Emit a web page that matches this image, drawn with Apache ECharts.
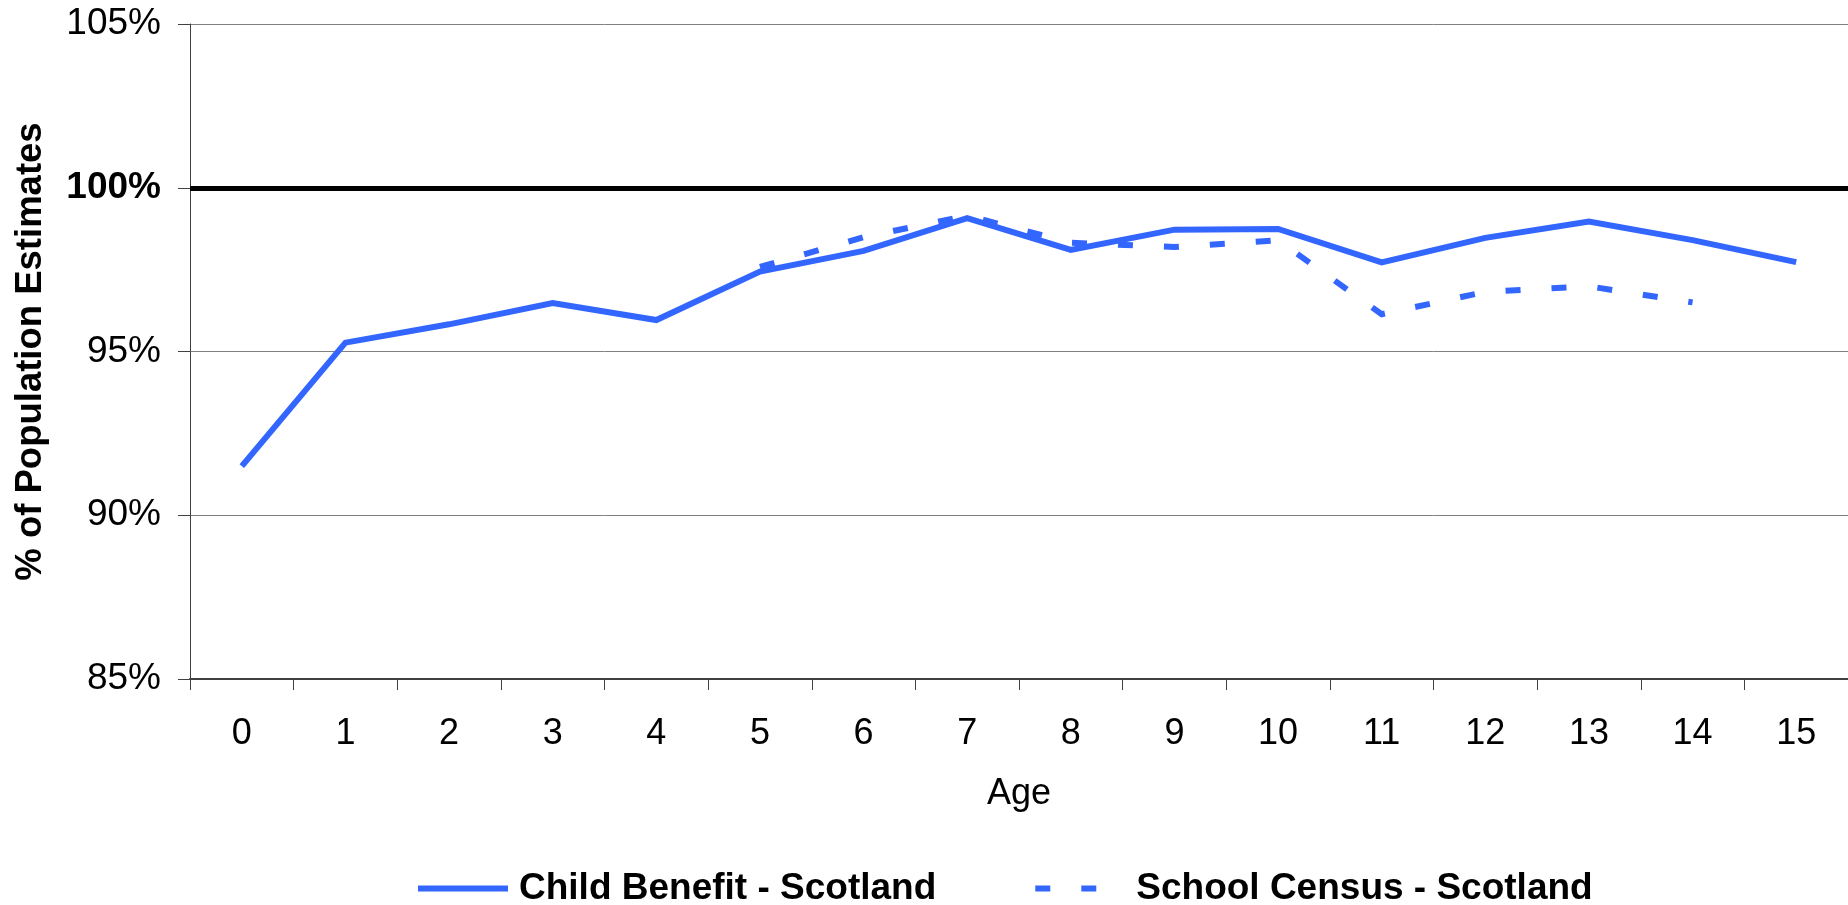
<!DOCTYPE html>
<html>
<head>
<meta charset="utf-8">
<title>Child Benefit and School Census as % of Population Estimates</title>
<script src="https://cdn.jsdelivr.net/npm/echarts@6/dist/echarts.min.js"></script>
<style>
  html, body { margin: 0; padding: 0; background: #ffffff; }
  #chart { width: 1848px; height: 905px; }
</style>
</head>
<body>
<div id="chart"></div>
<script>
// Ages 0 to 15
const ages = ['0', '1', '2', '3', '4', '5', '6', '7', '8', '9', '10', '11', '12', '13', '14', '15'];

// Child Benefit counts as % of population estimates, by age
const childBenefit = [91.5, 95.27, 95.83, 96.48, 95.96, 97.44, 98.07, 99.07, 98.1, 98.72, 98.74, 97.72, 98.47, 98.97, 98.4, 97.73];

// School Census counts as % of population estimates (school ages only)
const schoolCensus = [null, null, null, null, null, 97.58, 98.49, 99.15, 98.32, 98.19, 98.4, 96.14, 96.82, 96.99, 96.5, null];

// Value axis range and reference level
const yMin = 85;
const yMax = 105;
const yStep = 5;
const referenceLevel = 100;

const FONT = "'Liberation Sans', Arial, Helvetica, sans-serif";
const BLUE = '#3366FF';

const chart = echarts.init(document.getElementById('chart'), null, { renderer: 'canvas' });

chart.setOption({
  animation: false,
  backgroundColor: '#ffffff',
  textStyle: { fontFamily: FONT, color: '#000000' },
  grid: { left: 190, top: 24, width: 1685, height: 655 },
  legend: {
    left: 415,
    top: 870,
    padding: 0,
    itemWidth: 90,
    itemHeight: 20,
    itemGap: 96,
    textStyle: { fontFamily: FONT, fontSize: 37, fontWeight: 'bold', color: '#000000', padding: [0, 0, 0, 6] },
    itemStyle: { opacity: 0, borderWidth: 0 },
    lineStyle: { width: 6 },
    data: ['Child Benefit - Scotland', 'School Census - Scotland']
  },
  xAxis: {
    type: 'category',
    data: ages,
    boundaryGap: true,
    name: 'Age',
    nameLocation: 'middle',
    nameGap: 97,
    nameTextStyle: { fontFamily: FONT, fontSize: 36, color: '#000000' },
    axisLine: { show: true, lineStyle: { color: '#404040', width: 2 } },
    axisTick: { show: true, length: 11, lineStyle: { color: '#404040', width: 1 } },
    axisLabel: { fontFamily: FONT, fontSize: 36, color: '#000000', margin: 37, interval: 0 },
    splitLine: { show: false }
  },
  yAxis: {
    type: 'value',
    min: yMin,
    max: yMax,
    interval: yStep,
    name: '% of Population Estimates',
    nameLocation: 'middle',
    nameGap: 141,
    nameTextStyle: { fontFamily: FONT, fontSize: 36.5, fontWeight: 'bold', color: '#000000' },
    axisLine: { show: true, lineStyle: { color: '#404040', width: 1 } },
    axisTick: { show: true, length: 12, lineStyle: { color: '#404040', width: 1 } },
    axisLabel: {
      fontFamily: FONT,
      fontSize: 37,
      color: '#000000',
      margin: 29,
      formatter: function (v) {
        return v === referenceLevel ? '{b|' + v + '%}' : v + '%';
      },
      rich: {
        b: { fontFamily: FONT, fontSize: 37, fontWeight: 'bold', color: '#000000' }
      }
    },
    splitLine: { show: true, lineStyle: { color: '#808080', width: 1 } }
  },
  series: [
    {
      name: 'Child Benefit - Scotland',
      type: 'line',
      data: childBenefit,
      symbol: 'none',
      lineStyle: { color: BLUE, width: 6, type: 'solid', cap: 'butt', join: 'miter' },
      itemStyle: { color: BLUE },
      markLine: {
        silent: true,
        symbol: ['none', 'none'],
        label: { show: false },
        lineStyle: { color: '#000000', width: 5, type: 'solid' },
        data: [{ yAxis: referenceLevel }],
        z: 1
      },
      z: 3
    },
    {
      name: 'School Census - Scotland',
      type: 'line',
      data: schoolCensus,
      symbol: 'none',
      connectNulls: false,
      lineStyle: { color: BLUE, width: 6, type: [15, 31], cap: 'butt', join: 'miter' },
      itemStyle: { color: BLUE },
      z: 4
    }
  ]
});
</script>
</body>
</html>
